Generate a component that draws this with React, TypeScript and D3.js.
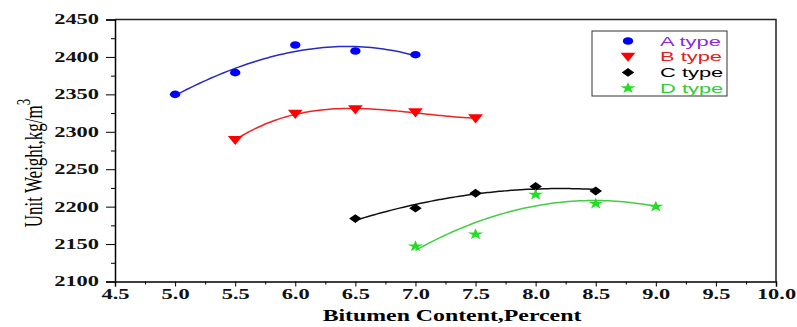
import React, { useEffect, useRef } from 'react'
import * as d3 from 'd3'

const xTicks = [4.5, 5.0, 5.5, 6.0, 6.5, 7.0, 7.5, 8.0, 8.5, 9.0, 9.5, 10.0]
const xMinor = [4.75, 5.25, 5.75, 6.25, 6.75, 7.25, 7.75, 8.25, 8.75, 9.25, 9.75]
const yTicks = [2100, 2150, 2200, 2250, 2300, 2350, 2400, 2450]
const yMinor = [2125, 2175, 2225, 2275, 2325, 2375, 2425]

const aX = [5.0, 5.5, 6.0, 6.5, 7.0]
const aY = [2350, 2379, 2416, 2408, 2403]
const bX = [5.5, 6.0, 6.5, 7.0, 7.5]
const bY = [2289, 2324, 2330, 2326, 2318]
const cX = [6.5, 7.0, 7.5, 8.0, 8.5]
const cY = [2184, 2198, 2218, 2227, 2221]
const dX = [7.0, 7.5, 8.0, 8.5, 9.0]
const dY = [2147, 2163, 2216, 2204, 2200]

const W = 797
const H = 327
const SERIF = '"Liberation Serif", "Times New Roman", serif'
const SANS = '"Liberation Sans", Arial, sans-serif'

// least squares polynomial fit, returns coefficients c0..cn
function polyFit(xs: number[], ys: number[], deg: number) {
  const n = deg + 1
  const m: number[][] = []
  for (let i = 0; i < n; i++) {
    const row: number[] = []
    for (let j = 0; j < n; j++) row.push(d3.sum(xs, x => Math.pow(x, i + j)))
    row.push(d3.sum(xs, (x, k) => Math.pow(x, i) * ys[k]))
    m.push(row)
  }
  for (let i = 0; i < n; i++) {
    let p = i
    for (let r = i + 1; r < n; r++) if (Math.abs(m[r][i]) > Math.abs(m[p][i])) p = r
    const tmp = m[i]; m[i] = m[p]; m[p] = tmp
    for (let r = 0; r < n; r++) {
      if (r === i) continue
      const f = m[r][i] / m[i][i]
      for (let c = i; c <= n; c++) m[r][c] -= f * m[i][c]
    }
  }
  return m.map((row, i) => row[n] / row[i])
}

// the original picture is stretched sideways, so widen the text the same way
function stretch(sel: any, k: number) {
  sel.each(function (this: SVGTextElement) {
    const w = this.getComputedTextLength()
    d3.select(this).attr('textLength', w * k).attr('lengthAdjust', 'spacingAndGlyphs')
  })
}

export default function App() {
  const ref = useRef<SVGSVGElement>(null)

  useEffect(() => {
    const svg = d3.select(ref.current)
    svg.selectAll('*').remove()

    const left = 115, right = 776, top = 19.5, bottom = 281.5
    const x = d3.scaleLinear().domain([4.5, 10]).range([left, right])
    const y = d3.scaleLinear().domain([2100, 2450]).range([bottom, top])

    const series = [
      { xs: aX, ys: aY, color: '#0000ff', line: '#2929c4', text: '#8b2be2', shape: 'circle', label: 'A type', deg: 3 },
      { xs: bX, ys: bY, color: '#ff0000', line: '#ee2222', text: '#e02020', shape: 'tri', label: 'B type', deg: 3 },
      { xs: cX, ys: cY, color: '#000000', line: '#111111', text: '#000000', shape: 'diamond', label: 'C type', deg: 2 },
      { xs: dX, ys: dY, color: '#22dd22', line: '#44cc44', text: '#33cc33', shape: 'star', label: 'D type', deg: 2 },
    ]

    // frame
    svg.append('path')
      .attr('d', `M${left},${top}H${right}V${bottom}`)
      .attr('fill', 'none').attr('stroke', '#222').attr('stroke-width', 1.5)

    // x axis
    const xMin = svg.append('g').attr('transform', `translate(0,${bottom})`)
      .call(d3.axisBottom(x).tickValues(xMinor).tickSize(3).tickFormat(() => ''))
    xMin.select('.domain').remove()
    const xAxis = svg.append('g').attr('transform', `translate(0,${bottom})`)
      .call(d3.axisBottom(x).tickValues(xTicks).tickSize(5).tickPadding(3).tickFormat(d3.format('.1f')))
    xAxis.select('.domain').attr('stroke-width', 1.5)
    const xText = xAxis.selectAll('text')
      .style('font-family', SERIF).style('font-weight', 'bold').style('font-size', '14px').style('fill', '#111')
    stretch(xText, 1.6)

    // y axis
    const yMin = svg.append('g').attr('transform', `translate(${left},0)`)
      .call(d3.axisLeft(y).tickValues(yMinor).tickSize(4).tickFormat(() => ''))
    yMin.select('.domain').remove()
    const yAxis = svg.append('g').attr('transform', `translate(${left},0)`)
      .call(d3.axisLeft(y).tickValues(yTicks).tickSize(9).tickPadding(7).tickFormat(d3.format('d')))
    yAxis.select('.domain').attr('stroke-width', 1.5)
    const yText = yAxis.selectAll('text')
      .style('font-family', SERIF).style('font-weight', 'bold').style('font-size', '14px').style('fill', '#111')
    stretch(yText, 1.6)

    // axis titles
    const xt = svg.append('text')
      .attr('x', 452).attr('y', 321)
      .attr('text-anchor', 'middle')
      .style('font-family', SERIF).style('font-weight', 'bold').style('font-size', '17px')
      .text('Bitumen Content,Percent')
    stretch(xt, 1.4)

    const yt = svg.append('text')
      .attr('transform', `translate(42,${163}) scale(1.5,1) rotate(-90)`)
      .attr('text-anchor', 'middle')
      .style('font-family', SERIF).style('font-size', '17px')
    yt.append('tspan').text('Unit Weight,kg/m')
    yt.append('tspan').attr('dy', -8).style('font-size', '13px').text('3')

    const drawMarker = (g: any, shape: string, color: string, cx: number, cy: number) => {
      if (shape === 'circle') {
        g.append('ellipse').attr('cx', cx).attr('cy', cy).attr('rx', 5.2).attr('ry', 3.8).attr('fill', color)
        return
      }
      if (shape === 'tri') {
        g.append('path').attr('d', d3.symbol(d3.symbolTriangle, 48)()).attr('fill', color)
          .attr('transform', `translate(${cx},${cy - 1}) scale(1.4,1) rotate(180)`)
        return
      }
      if (shape === 'diamond') {
        g.append('path').attr('d', d3.symbol(d3.symbolSquare, 40)()).attr('fill', color)
          .attr('transform', `translate(${cx},${cy}) scale(1.4,1) rotate(45)`)
        return
      }
      g.append('path').attr('d', d3.symbol(d3.symbolStar, 40)()).attr('fill', color)
        .attr('transform', `translate(${cx},${cy}) scale(1.35,1)`)
    }

    const line = d3.line<[number, number]>().x(d => x(d[0])).y(d => y(d[1])).curve(d3.curveMonotoneX)

    series.forEach(s => {
      const coef = polyFit(s.xs, s.ys, s.deg)
      const x0 = d3.min(s.xs)!, x1 = d3.max(s.xs)!
      const pts: [number, number][] = d3.range(0, 61).map(i => {
        const xv = x0 + (x1 - x0) * i / 60
        return [xv, coef.reduce((acc, c, k) => acc + c * Math.pow(xv, k), 0)]
      })
      svg.append('path').attr('d', line(pts)).attr('fill', 'none')
        .attr('stroke', s.line).attr('stroke-width', 1.5)
      const g = svg.append('g')
      s.xs.forEach((xv, i) => drawMarker(g, s.shape, s.color, x(xv), y(s.ys[i])))
    })

    // legend
    const lg = svg.append('g')
    lg.append('rect').attr('x', 592).attr('y', 31).attr('width', 135).attr('height', 65)
      .attr('fill', 'white').attr('stroke', '#333').attr('stroke-width', 1)
    series.forEach((s, i) => {
      const cy = 41 + i * 15.7
      drawMarker(lg, s.shape, s.color, 628, cy)
      const t = lg.append('text').attr('x', 660).attr('y', cy + 4.5)
        .style('font-family', SANS).style('font-size', '12.5px')
        .style('fill', s.text).text(s.label)
      stretch(t, 1.75)
    })
  }, [])

  return (
    <div style={{ position: 'absolute', left: 0, top: 0 }}>
      <svg ref={ref} width={W} height={H} style={{ display: 'block', background: 'white' }} />
    </div>
  )
}
